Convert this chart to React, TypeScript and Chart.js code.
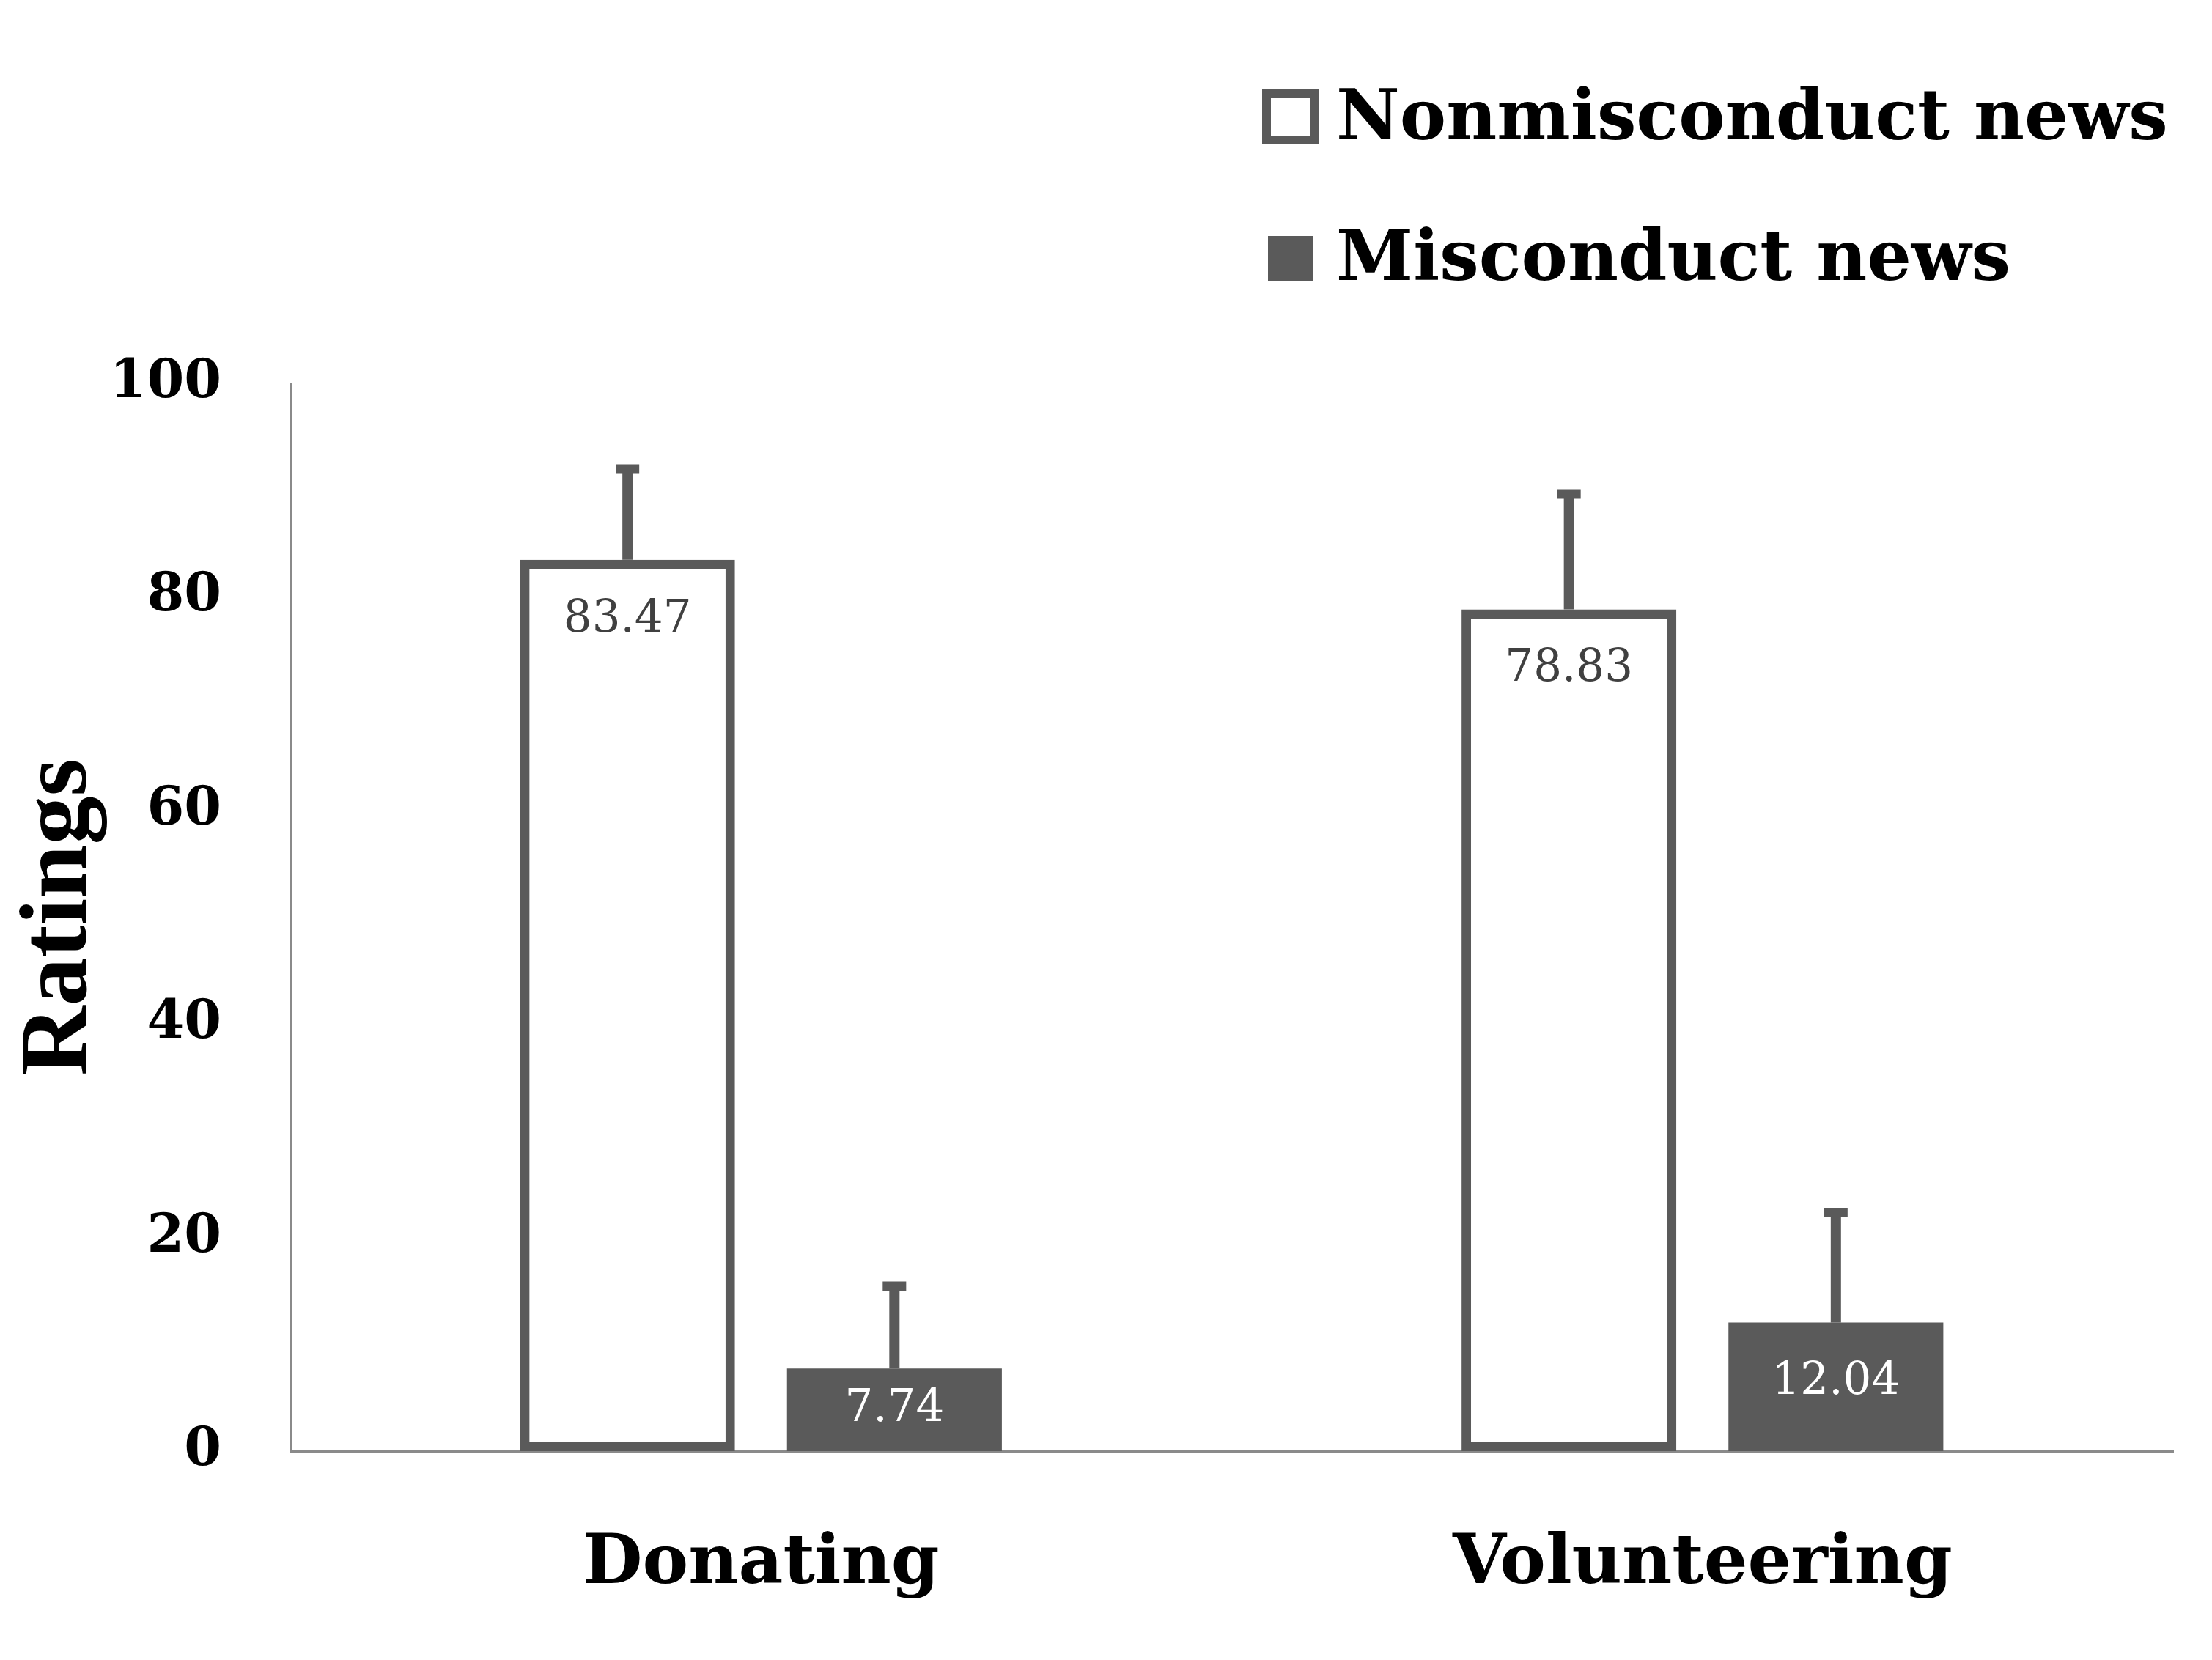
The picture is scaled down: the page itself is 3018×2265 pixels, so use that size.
import React, { useEffect, useRef } from "react";
import { Chart, registerables } from "chart.js";

Chart.register(...registerables);

const categories = ["Donating", "Volunteering"];
const seriesNames = ["Nonmisconduct news", "Misconduct news"];
const nonmisconductValues = [83.47, 78.83];
const misconductValues = [7.74, 12.04];
const nonmisconductErrors = [8.5, 10.8];
const misconductErrors = [7.7, 10.3];
const yTickValues = [0, 20, 40, 60, 80, 100];

const W = 3018;
const H = 2265;
const BAR_GRAY = "#5a5a5a";
const AXIS_GRAY = "#8a8a8a";
const SERIF = "'DejaVu Serif', serif";

const errorBarPlugin = {
  id: "errorBars",
  afterDatasetsDraw(chart: any) {
    const ctx = chart.ctx;
    const yScale = chart.scales.y;
    chart.data.datasets.forEach((ds: any, i: number) => {
      const meta = chart.getDatasetMeta(i);
      const errs: number[] = ds.errors || [];
      meta.data.forEach((el: any, j: number) => {
        const v = ds.data[j];
        const e = errs[j];
        if (e == null) return;
        const yTop = yScale.getPixelForValue(v + e);
        ctx.save();
        ctx.strokeStyle = BAR_GRAY;
        ctx.lineWidth = 14;
        ctx.beginPath();
        ctx.moveTo(el.x, el.y);
        ctx.lineTo(el.x, yTop);
        ctx.stroke();
        ctx.lineWidth = 13;
        ctx.beginPath();
        ctx.moveTo(el.x - 16, yTop);
        ctx.lineTo(el.x + 16, yTop);
        ctx.stroke();
        ctx.restore();
      });
    });
  },
};

const valueLabelPlugin = {
  id: "valueLabels",
  afterDatasetsDraw(chart: any) {
    const ctx = chart.ctx;
    chart.data.datasets.forEach((ds: any, i: number) => {
      const meta = chart.getDatasetMeta(i);
      meta.data.forEach((el: any, j: number) => {
        const v = ds.data[j];
        const y = Math.min(el.y + 82, (el.y + el.base) / 2);
        ctx.save();
        ctx.font = `61px ${SERIF}`;
        ctx.fillStyle = ds.labelColor;
        ctx.textAlign = "center";
        ctx.textBaseline = "middle";
        ctx.fillText(v.toFixed(2), el.x, y);
        ctx.restore();
      });
    });
  },
};

const customLegendPlugin = {
  id: "customLegend",
  afterDraw(chart: any) {
    const ctx = chart.ctx;
    const rows = [
      { box: [1722, 122, 78, 75], baseline: 190 },
      { box: [1730, 322, 62, 62], baseline: 382 },
    ];
    chart.data.datasets.forEach((ds: any, i: number) => {
      const r = rows[i];
      if (!r) return;
      const [bx, by, bw, bh] = r.box;
      ctx.save();
      if (ds.borderWidth > 0) {
        const lw = 12;
        ctx.fillStyle = "#ffffff";
        ctx.fillRect(bx, by, bw, bh);
        ctx.strokeStyle = ds.borderColor;
        ctx.lineWidth = lw;
        ctx.strokeRect(bx + lw / 2, by + lw / 2, bw - lw, bh - lw);
      } else {
        ctx.fillStyle = ds.backgroundColor;
        ctx.fillRect(bx, by, bw, bh);
      }
      ctx.fillStyle = "#000000";
      ctx.font = `bold 95px ${SERIF}`;
      ctx.textAlign = "left";
      ctx.textBaseline = "alphabetic";
      ctx.fillText(ds.label, 1823, r.baseline);
      ctx.restore();
    });
  },
};

export default function App() {
  const canvasRef = useRef<HTMLCanvasElement | null>(null);

  useEffect(() => {
    document.body.style.margin = "0";
    const canvas = canvasRef.current;
    if (!canvas) return;
    const chart = new Chart(canvas, {
      type: "bar",
      data: {
        labels: categories,
        datasets: [
          {
            label: seriesNames[0],
            data: nonmisconductValues,
            errors: nonmisconductErrors,
            backgroundColor: "#ffffff",
            borderColor: BAR_GRAY,
            borderWidth: 13,
            borderSkipped: false,
            labelColor: "#404040",
          } as any,
          {
            label: seriesNames[1],
            data: misconductValues,
            errors: misconductErrors,
            backgroundColor: BAR_GRAY,
            borderColor: BAR_GRAY,
            borderWidth: 0,
            labelColor: "#ffffff",
          } as any,
        ],
      },
      options: {
        responsive: false,
        animation: false,
        devicePixelRatio: 1,
        categoryPercentage: 0.567,
        barPercentage: 0.805,
        layout: { padding: { left: 0, right: 53, top: 523, bottom: 0 } },
        plugins: {
          legend: { display: false },
          tooltip: { enabled: false },
          title: { display: false },
        },
        scales: {
          x: {
            grid: { display: false, drawTicks: false },
            border: { display: true, color: AXIS_GRAY, width: 3 },
            ticks: {
              color: "#000000",
              font: { family: SERIF, size: 94, weight: "bold" },
              padding: 99,
            },
            afterFit: (s: any) => {
              s.height = H - 1980;
            },
          },
          y: {
            min: 0,
            max: 100,
            afterBuildTicks: (s: any) => {
              s.ticks = yTickValues.map((v) => ({ value: v }));
            },
            grid: { display: false, drawTicks: false },
            border: { display: true, color: AXIS_GRAY, width: 3 },
            ticks: {
              color: "#000000",
              font: { family: SERIF, size: 73, weight: "bold" },
              padding: 94,
            },
            title: {
              display: true,
              text: "Ratings",
              color: "#000000",
              font: { family: "'Liberation Serif', serif", size: 132, weight: "bold" },
              padding: { top: 4, bottom: 0 },
            },
            afterFit: (s: any) => {
              s.width = 396;
            },
          },
        },
      } as any,
      plugins: [errorBarPlugin, valueLabelPlugin, customLegendPlugin],
    });
    return () => chart.destroy();
  }, []);

  return (
    <div style={{ position: "fixed", left: 0, top: 0, width: W, height: H, background: "#ffffff" }}>
      <canvas ref={canvasRef} width={W} height={H} style={{ width: W, height: H, display: "block" }} />
    </div>
  );
}
